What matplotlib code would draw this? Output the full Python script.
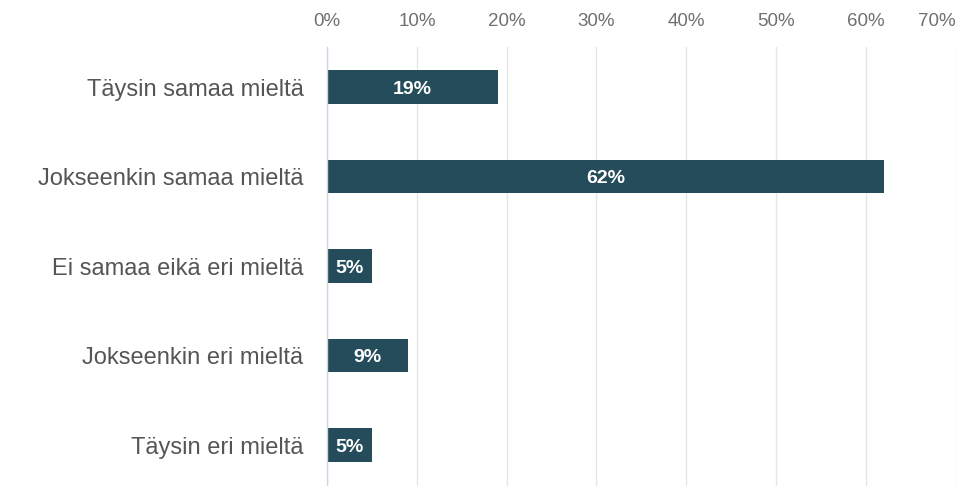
import matplotlib
matplotlib.use("Agg")
import matplotlib.pyplot as plt

# vastausten jakauma
categories = ["Täysin samaa mieltä", "Jokseenkin samaa mieltä", "Ei samaa eikä eri mieltä",
              "Jokseenkin eri mieltä", "Täysin eri mieltä"]
values = [19, 62, 5, 9, 5]
xticks = [0, 10, 20, 30, 40, 50, 60, 70]
xtick_labels = ["0%", "10%", "20%", "30%", "40%", "50%", "60%", "70%"]

bar_color = "#244c5a"

plt.rcParams["font.family"] = ["Liberation Sans", "DejaVu Sans"]

fig = plt.figure(figsize=(9.57, 4.86), dpi=100)
ax = fig.add_axes([0.3419, 0.0, 0.6566, 0.9033])

ypos = list(range(len(categories)))
ax.barh(ypos, values, height=0.37, color=bar_color, zorder=3)

for y, v in zip(ypos, values):
    ax.text(v / 2, y, f"{v}%", ha="center", va="center_baseline", color="white",
            fontsize=14, fontweight="bold", zorder=4)

ax.set_xlim(0, 70)
ax.set_ylim(4.458, -0.447)

ax.set_yticks(ypos)
ax.set_yticklabels(categories, fontsize=17, color="#555555")
ax.tick_params(axis="y", length=0, pad=17)

ax.xaxis.tick_top()
ax.set_xticks(xticks)
ax.set_xticklabels(xtick_labels, fontsize=13.5, color="#707070")
ax.tick_params(axis="x", length=0, pad=12)
# viimeinen otsake mahtumaan kuvaan
ax.get_xticklabels()[-1].set_horizontalalignment("right")

ax.grid(axis="x", color="#e6e6e6", linewidth=1.0, zorder=0)
ax.grid(axis="y", visible=False)
for side in ["top", "right", "bottom"]:
    ax.spines[side].set_visible(False)
ax.spines["left"].set_color("#ccd6eb")
ax.spines["left"].set_linewidth(1.0)
ax.spines["left"].set_zorder(5)

fig.savefig("out.png", dpi=100)
